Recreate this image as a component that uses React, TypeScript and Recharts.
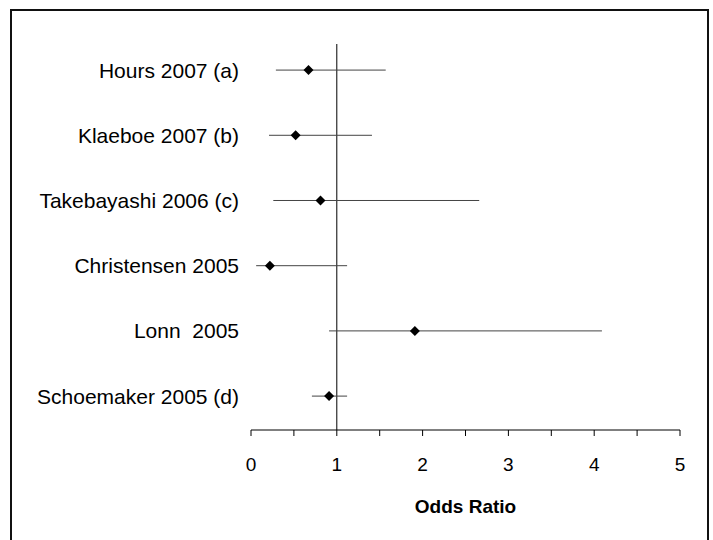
import { ScatterChart, Scatter, XAxis, YAxis, ErrorBar, ReferenceLine } from "recharts";

const studies = [
  "Hours 2007 (a)",
  "Klaeboe 2007 (b)",
  "Takebayashi 2006 (c)",
  "Christensen 2005",
  "Lonn \u00a02005",
  "Schoemaker 2005 (d)",
];
const oddsRatio = [0.67, 0.52, 0.81, 0.22, 1.91, 0.91];
const lowerCI = [0.29, 0.21, 0.26, 0.06, 0.91, 0.71];
const upperCI = [1.57, 1.41, 2.66, 1.12, 4.09, 1.12];
const xTicks = [0, 0.5, 1, 1.5, 2, 2.5, 3, 3.5, 4, 4.5, 5];

const data = studies.map((name, i) => ({
  name,
  row: i + 1,
  or: oddsRatio[i],
  err: [oddsRatio[i] - lowerCI[i], upperCI[i] - oddsRatio[i]],
}));

// filled diamond centred on the point
const Diamond = (props: any) => {
  const { cx, cy } = props;
  const r = 5;
  return (
    <polygon
      points={`${cx},${cy - r} ${cx + r},${cy} ${cx},${cy + r} ${cx - r},${cy}`}
      fill="#000"
    />
  );
};

export default function App() {
  return (
    <>
      <div
        style={{
          position: "absolute",
          left: 10,
          top: 9,
          width: 699,
          height: 531,
          boxSizing: "border-box",
          border: "2px solid #111",
          borderBottom: "none",
        }}
      />
      <div style={{ position: "absolute", left: 0, top: 0, fontFamily: "'Liberation Sans', Arial, sans-serif" }}>
        <ScatterChart width={713} height={540} margin={{ top: 44, right: 33, left: 0, bottom: 27 }}>
          <XAxis
            type="number"
            dataKey="or"
            domain={[0, 5]}
            ticks={xTicks}
            interval={0}
            tickFormatter={(v: number) => (Number.isInteger(v) ? String(v) : "")}
            height={83}
            tickSize={6}
            tickMargin={22}
            axisLine={{ stroke: "#000" }}
            tickLine={{ stroke: "#000" }}
            tick={{ fill: "#000", fontSize: 19 }}
            label={{
              value: "Odds Ratio",
              position: "insideBottom",
              offset: 0,
              fill: "#000",
              fontSize: 19,
              fontWeight: "bold",
            }}
          />
          <YAxis
            type="number"
            dataKey="row"
            domain={[0.6, 6.52]}
            reversed
            ticks={[1, 2, 3, 4, 5, 6]}
            interval={0}
            tickFormatter={(v: number) => studies[v - 1] ?? ""}
            width={251}
            axisLine={false}
            tickLine={false}
            tickMargin={6}
            tick={{ fill: "#000", fontSize: 21 }}
          />
          <ReferenceLine x={1} stroke="#000" strokeWidth={1} />
          <Scatter data={data} shape={Diamond} isAnimationActive={false}>
            <ErrorBar dataKey="err" direction="x" width={0} stroke="#444" strokeWidth={1} />
          </Scatter>
        </ScatterChart>
      </div>
    </>
  );
}
